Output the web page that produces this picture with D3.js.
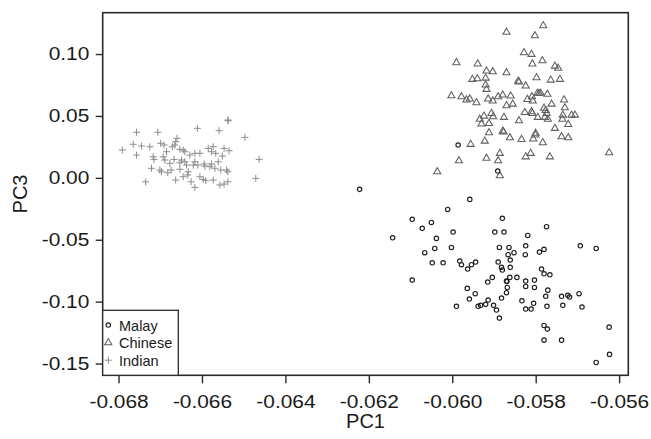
<!DOCTYPE html>
<html>
<head>
<meta charset="utf-8">
<script src="https://cdn.jsdelivr.net/npm/d3@7"></script>
<style>
  html, body { margin: 0; padding: 0; background: #fff; }
  svg { display: block; font-family: "Liberation Sans", Arial, Helvetica, sans-serif; }
</style>
</head>
<body>
<svg id="chart" width="651" height="439"></svg>
<script>
// PC1 / PC3 scores per population
const malay = [
  [-0.06222,-0.0093],[-0.05986,0.0265],[-0.05891,0.0055],[-0.05958,-0.0174],[-0.06011,-0.0255],
  [-0.06096,-0.0335],[-0.06050,-0.0360],[-0.06072,-0.0408],[-0.06143,-0.0484],[-0.05998,-0.0438],
  [-0.06038,-0.0489],[-0.06042,-0.0570],[-0.06066,-0.0605],[-0.06002,-0.0562],[-0.06048,-0.0686],
  [-0.06022,-0.0686],[-0.05982,-0.0672],[-0.05978,-0.0702],[-0.05963,-0.0737],[-0.05954,-0.0702],
  [-0.05944,-0.0680],[-0.06096,-0.0826],[-0.05880,-0.0327],[-0.05898,-0.0438],[-0.05876,-0.0438],
  [-0.05819,-0.0465],[-0.05774,-0.0395],[-0.05887,-0.0562],[-0.05864,-0.0562],[-0.05866,-0.0621],
  [-0.05852,-0.0605],[-0.05824,-0.0549],[-0.05825,-0.0621],[-0.05791,-0.0600],[-0.05780,-0.0578],
  [-0.05890,-0.0680],[-0.05861,-0.0664],[-0.05882,-0.0723],[-0.05880,-0.0745],[-0.05861,-0.0723],
  [-0.05786,-0.0737],[-0.05780,-0.0775],[-0.05766,-0.0783],[-0.05904,-0.0804],[-0.05915,-0.0842],
  [-0.05870,-0.0834],[-0.05869,-0.0838],[-0.05862,-0.0804],[-0.05845,-0.0804],[-0.05824,-0.0834],
  [-0.05803,-0.0826],[-0.05868,-0.0885],[-0.05824,-0.0877],[-0.05803,-0.0885],[-0.05870,-0.0928],
  [-0.05964,-0.0893],[-0.05945,-0.0936],[-0.05959,-0.0979],[-0.05990,-0.1038],[-0.05938,-0.1038],
  [-0.05932,-0.1030],[-0.05920,-0.1022],[-0.05914,-0.0987],[-0.05901,-0.1030],[-0.05894,-0.1068],
  [-0.05887,-0.1133],[-0.05882,-0.0971],[-0.05833,-0.0993],[-0.05805,-0.1014],[-0.05824,-0.1060],
  [-0.05811,-0.1060],[-0.05776,-0.0957],[-0.05771,-0.0907],[-0.05773,-0.1038],[-0.05738,-0.0957],
  [-0.05735,-0.1030],[-0.05723,-0.0949],[-0.05719,-0.0963],[-0.05696,-0.0936],[-0.05689,-0.1044],
  [-0.05693,-0.0549],[-0.05655,-0.0570],[-0.05780,-0.1192],[-0.05772,-0.1222],[-0.05780,-0.1311],
  [-0.05738,-0.1311],[-0.05624,-0.1206],[-0.05623,-0.1426],[-0.05655,-0.1491]
];

const chinese = [
  [-0.05782,0.1229],[-0.05870,0.1176],[-0.05802,0.1148],[-0.05828,0.1011],[-0.05810,0.0998],
  [-0.05784,0.0946],[-0.05808,0.0920],[-0.05990,0.0930],[-0.05939,0.0920],[-0.05754,0.0903],
  [-0.05746,0.0885],[-0.05918,0.0863],[-0.05903,0.0857],[-0.05870,0.0849],[-0.05952,0.0796],
  [-0.05940,0.0801],[-0.05920,0.0806],[-0.05842,0.0780],[-0.05840,0.0774],[-0.05824,0.0742],
  [-0.05798,0.0809],[-0.05764,0.0790],[-0.05742,0.0796],[-0.05920,0.0750],[-0.05918,0.0715],
  [-0.06002,0.0663],[-0.05978,0.0655],[-0.05966,0.0629],[-0.05958,0.0637],[-0.05942,0.0607],
  [-0.05914,0.0637],[-0.05903,0.0621],[-0.05890,0.0655],[-0.05879,0.0669],[-0.05860,0.0661],
  [-0.05870,0.0583],[-0.05855,0.0596],[-0.05820,0.0634],[-0.05809,0.0655],[-0.05807,0.0621],
  [-0.05796,0.0683],[-0.05792,0.0683],[-0.05788,0.0683],[-0.05772,0.0675],[-0.05732,0.0629],
  [-0.05762,0.0596],[-0.05780,0.0562],[-0.05776,0.0544],[-0.05730,0.0566],[-0.05774,0.0521],
  [-0.05826,0.0529],[-0.05810,0.0534],[-0.05808,0.0521],[-0.05906,0.0521],[-0.05902,0.0494],
  [-0.05876,0.0489],[-0.05924,0.0499],[-0.05934,0.0473],[-0.05912,0.0440],[-0.05930,0.0435],
  [-0.05840,0.0461],[-0.05795,0.0489],[-0.05778,0.0489],[-0.05771,0.0473],[-0.05735,0.0507],
  [-0.05736,0.0473],[-0.05714,0.0507],[-0.05706,0.0507],[-0.05722,0.0432],[-0.05754,0.0400],
  [-0.05912,0.0364],[-0.05879,0.0378],[-0.05877,0.0370],[-0.05862,0.0324],[-0.05834,0.0311],
  [-0.05806,0.0314],[-0.05800,0.0360],[-0.05801,0.0346],[-0.05783,0.0284],[-0.05738,0.0332],
  [-0.05722,0.0324],[-0.05922,0.0297],[-0.05956,0.0271],[-0.05824,0.0170],[-0.05812,0.0198],
  [-0.05766,0.0170],[-0.05918,0.0158],[-0.05890,0.0138],[-0.05886,0.0198],[-0.05984,0.0138],
  [-0.05886,0.0017],[-0.06036,0.0049],[-0.05624,0.0203]
];

const indian = [
  [-0.06538,0.0467],[-0.06537,0.0461],[-0.06611,0.0400],[-0.06559,0.0381],[-0.06757,0.0368],
  [-0.06706,0.0368],[-0.06497,0.0327],[-0.06660,0.0319],[-0.06663,0.0292],[-0.06791,0.0225],
  [-0.06765,0.0271],[-0.06745,0.0257],[-0.06725,0.0251],[-0.06699,0.0279],[-0.06691,0.0265],
  [-0.06757,0.0184],[-0.06717,0.0170],[-0.06715,0.0149],[-0.06685,0.0211],[-0.06671,0.0251],
  [-0.06665,0.0265],[-0.06653,0.0230],[-0.06645,0.0225],[-0.06641,0.0211],[-0.06689,0.0144],
  [-0.06667,0.0149],[-0.06653,0.0122],[-0.06641,0.0130],[-0.06629,0.0184],[-0.06617,0.0198],
  [-0.06605,0.0198],[-0.06585,0.0238],[-0.06573,0.0251],[-0.06577,0.0211],[-0.06567,0.0198],
  [-0.06547,0.0238],[-0.06535,0.0219],[-0.06551,0.0176],[-0.06463,0.0149],[-0.06721,0.0077],
  [-0.06701,0.0063],[-0.06697,0.0049],[-0.06682,0.0041],[-0.06674,0.0063],[-0.06653,0.0069],
  [-0.06637,0.0103],[-0.06617,0.0130],[-0.06610,0.0103],[-0.06593,0.0095],[-0.06581,0.0090],
  [-0.06577,0.0112],[-0.06561,0.0130],[-0.06555,0.0063],[-0.06541,0.0063],[-0.06538,0.0049],
  [-0.06735,-0.0032],[-0.06663,-0.0018],[-0.06645,0.0009],[-0.06634,0.0023],[-0.06626,-0.0032],
  [-0.06617,-0.0077],[-0.06605,0.0009],[-0.06597,-0.0012],[-0.06573,-0.0018],[-0.06557,-0.0058],
  [-0.06547,-0.0050],[-0.06538,-0.0032],[-0.06471,-0.0004],[-0.06677,0.0117],[-0.06621,0.0103],
  [-0.06595,0.0112],[-0.06569,0.0077],[-0.06633,0.0049],[-0.06693,0.0170],[-0.06649,0.0144],
  [-0.06591,-0.0023]
];

const xTicks = [-0.068, -0.066, -0.064, -0.062, -0.060, -0.058, -0.056];
const yTicks = [0.10, 0.05, 0.00, -0.05, -0.10, -0.15];
const groupNames = ["Malay", "Chinese", "Indian"];

const svg = d3.select("#chart");
const plot = { left: 102.7, right: 628.3, top: 12.7, bottom: 375.3 };

const x = d3.scaleLinear().domain([-0.06838, -0.05578]).range([plot.left, plot.right]);
const y = d3.scaleLinear().domain([-0.1595, 0.1334]).range([plot.bottom, plot.top]);

const ink = "#2a2a2a";
const fmtX = v => d3.format(".3f")(v).replace("\u2212", "-");
const fmtY = v => d3.format(".2f")(v).replace("\u2212", "-");

// axes
const xAxis = svg.append("g")
  .attr("transform", `translate(0,${plot.bottom})`)
  .call(d3.axisBottom(x).tickValues(xTicks).tickFormat(fmtX).tickSize(8).tickSizeOuter(0).tickPadding(11.5));
const yAxis = svg.append("g")
  .attr("transform", `translate(${plot.left},0)`)
  .call(d3.axisLeft(y).tickValues(yTicks).tickFormat(fmtY).tickSize(7).tickSizeOuter(0).tickPadding(6.4));

// tick labels use a slightly wide face
[xAxis, yAxis].forEach(g => {
  g.select(".domain").remove();
  g.selectAll(".tick line").attr("stroke", ink).attr("stroke-width", 1.4);
  g.selectAll(".tick text")
    .attr("fill", "#1a1a1a")
    .style("font-size", "18px")
    .each(function () {
      const w = this.getComputedTextLength();
      d3.select(this).attr("textLength", w * 1.16).attr("lengthAdjust", "spacingAndGlyphs");
    });
});

// plot frame
svg.append("rect")
  .attr("x", plot.left).attr("y", plot.top)
  .attr("width", plot.right - plot.left).attr("height", plot.bottom - plot.top)
  .attr("fill", "none").attr("stroke", ink).attr("stroke-width", 1.6);

// axis titles
svg.append("text")
  .attr("x", (plot.left + plot.right) / 2).attr("y", 428)
  .attr("text-anchor", "middle").attr("fill", "#1a1a1a")
  .style("font-size", "20px").text("PC1");
svg.append("text")
  .attr("transform", `translate(27,${(plot.top + plot.bottom) / 2}) rotate(-90)`)
  .attr("text-anchor", "middle").attr("fill", "#1a1a1a")
  .style("font-size", "20px").text("PC3");

// marker drawers
const tri = d3.symbol().type(d3.symbolTriangle).size(22)();
const plus = "M-3.5,0H3.5M0,-3.5V3.5";
const styles = {
  Malay:   sel => sel.append("circle").attr("r", 2.2).attr("fill", "none").attr("stroke", "#1e1e1e").attr("stroke-width", 1.15),
  Chinese: sel => sel.append("path").attr("d", tri).attr("fill", "none").attr("stroke", "#606060").attr("stroke-width", 1.05),
  Indian:  sel => sel.append("path").attr("d", plus).attr("fill", "none").attr("stroke", "#8c8c8c").attr("stroke-width", 1)
};

const layers = svg.append("g");
[["Indian", indian], ["Chinese", chinese], ["Malay", malay]].forEach(([name, rows]) => {
  const g = layers.append("g").attr("class", name);
  const pts = g.selectAll("g").data(rows).join("g")
    .attr("transform", d => `translate(${x(d[0])},${y(d[1])})`);
  styles[name](pts);
});

// legend
const legend = svg.append("g");
legend.append("rect")
  .attr("x", plot.left).attr("y", 310.3)
  .attr("width", 178.3 - plot.left).attr("height", plot.bottom - 310.3)
  .attr("fill", "#fff").attr("stroke", ink).attr("stroke-width", 1.3);
groupNames.forEach((name, i) => {
  const cy = 325 + i * 17.6;
  const item = legend.append("g").attr("transform", `translate(108.3,${cy})`);
  styles[name](item);
  legend.append("text")
    .attr("x", 119).attr("y", cy + 5.5)
    .attr("fill", "#1a1a1a").style("font-size", "14.5px")
    .text(name);
});
</script>
</body>
</html>
